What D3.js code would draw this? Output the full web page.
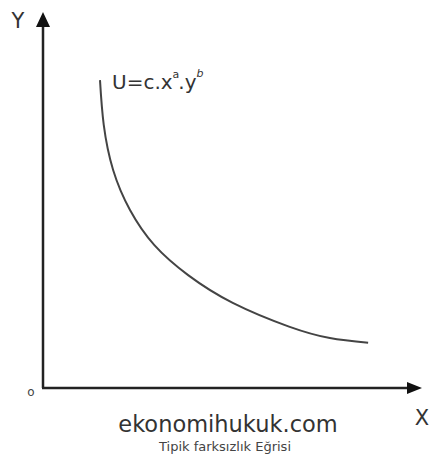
<!DOCTYPE html>
<html>
<head>
<meta charset="utf-8">
<script src="https://d3js.org/d3.v7.min.js"></script>
<style>
  body { margin: 0; background: #fff; }
</style>
</head>
<body>
<script>
// indifference curve (axis units 0..10)
const curveX = [1.52, 1.62, 1.87, 2.32, 2.97, 3.87, 5.06, 6.56, 7.65, 8.67];
const curveY = [8.32, 7.11, 5.89, 4.81, 3.86, 3.05, 2.30, 1.66, 1.35, 1.22];
const axisNames = ["X", "Y"];
const originLabel = "o";
const siteName = "ekonomihukuk.com";
const caption = "Tipik farksızlık Eğrisi";

const width = 431, height = 460;
const svg = d3.select("body").append("svg")
   .attr("width", width)
   .attr("height", height);

const x = d3.scaleLinear().domain([0, 10]).range([43, 418]);
const y = d3.scaleLinear().domain([0, 10]).range([388, 18]);

const ink = "#222";

// axes
svg.append("line")
   .attr("x1", x(0)).attr("y1", y(0))
   .attr("x2", x(0)).attr("y2", y(10) + 6)
   .attr("stroke", ink).attr("stroke-width", 2.5);
svg.append("line")
   .attr("x1", x(0) - 1).attr("y1", y(0))
   .attr("x2", x(10) - 6).attr("y2", y(0))
   .attr("stroke", ink).attr("stroke-width", 2.5);

// arrow heads
const ty = y(10) - 6;
svg.append("path")
   .attr("d", `M${x(0)},${ty} L${x(0) + 7},${ty + 15} L${x(0) - 7},${ty + 15} Z`)
   .attr("fill", "#111");
const tx = x(10) + 4;
svg.append("path")
   .attr("d", `M${tx},${y(0)} L${tx - 15},${y(0) - 6} L${tx - 15},${y(0) + 6} Z`)
   .attr("fill", "#111");

// axis letters
svg.append("text")
   .attr("x", 18).attr("y", 28)
   .attr("text-anchor", "middle")
   .style("font-family", "DejaVu Sans")
   .style("font-size", "21px")
   .style("fill", "#333")
   .text(axisNames[1]);
svg.append("text")
   .attr("x", 422).attr("y", 425)
   .attr("text-anchor", "middle")
   .style("font-family", "DejaVu Sans")
   .style("font-size", "21px")
   .style("fill", "#333")
   .text(axisNames[0]);
svg.append("text")
   .attr("x", 31).attr("y", 396)
   .attr("text-anchor", "middle")
   .style("font-family", "DejaVu Sans")
   .style("font-size", "12px")
   .style("fill", "#444")
   .text(originLabel);

// the curve
const pts = curveX.map((v, i) => [v, curveY[i]]);
const line = d3.line()
   .x(d => x(d[0]))
   .y(d => y(d[1]))
   .curve(d3.curveNatural);
svg.append("path")
   .attr("d", line(pts))
   .attr("fill", "none")
   .attr("stroke", "#444")
   .attr("stroke-width", 2);

// formula
const f = svg.append("text")
   .attr("x", 112).attr("y", 89)
   .style("font-family", "DejaVu Sans")
   .style("font-size", "20px")
   .style("fill", "#333");
f.append("tspan").text("U=c.x");
f.append("tspan").attr("dy", -11).style("font-size", "11px").text("a");
f.append("tspan").attr("dy", 11).attr("dx", -1).text(".y");
f.append("tspan").attr("dy", -12).style("font-size", "11px").style("font-style", "italic").text("b");

// footer texts
svg.append("text")
   .attr("x", 228).attr("y", 432)
   .attr("text-anchor", "middle")
   .style("font-family", "DejaVu Sans")
   .style("font-size", "22.5px")
   .style("fill", "#333")
   .text(siteName);
svg.append("text")
   .attr("x", 225).attr("y", 451)
   .attr("text-anchor", "middle")
   .style("font-family", "DejaVu Sans")
   .style("font-size", "13px")
   .style("fill", "#444")
   .text(caption);
</script>
</body>
</html>
